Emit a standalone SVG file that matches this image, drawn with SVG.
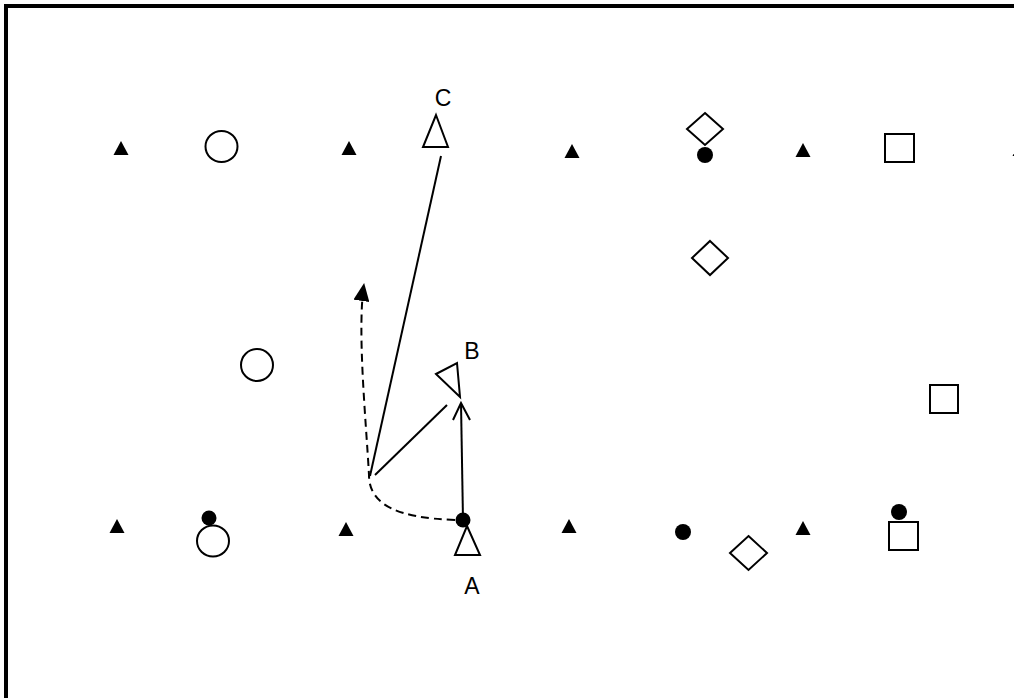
<svg xmlns="http://www.w3.org/2000/svg" width="1014" height="698" viewBox="0 0 1014 698">
<style>
.o{fill:#fff;stroke:#000;stroke-width:2}
.f{fill:#000;stroke:none}
.ln{fill:none;stroke:#000;stroke-width:2}
.d{fill:none;stroke:#000;stroke-width:2;stroke-dasharray:8,5}
.t{font-family:"Liberation Sans",Arial,sans-serif;font-size:23px;fill:#000}
</style>
<defs>
<path id="tri" d="M0,-7 L7.5,7 L-7.5,7 Z"/>
<marker id="fh" viewBox="0 0 18 16" refX="17" refY="8" markerWidth="18" markerHeight="16" markerUnits="userSpaceOnUse" orient="auto"><path d="M0,0 L18,8 L0,16 Z" fill="#000"/></marker>
</defs>
<rect id="frame" x="6" y="6" width="1012" height="700" fill="none" stroke="#000" stroke-width="4"/>
<g id="markers">
<use href="#tri" x="121" y="148" class="f"/>
<use href="#tri" x="349" y="148" class="f"/>
<use href="#tri" x="572" y="151" class="f"/>
<use href="#tri" x="803" y="150" class="f"/>
<use href="#tri" x="1020" y="149" class="f"/>
<use href="#tri" x="117" y="526" class="f"/>
<use href="#tri" x="346" y="529" class="f"/>
<use href="#tri" x="569" y="526" class="f"/>
<use href="#tri" x="803" y="528" class="f"/>
</g>
<g id="circles">
<ellipse cx="221.5" cy="146.5" rx="16" ry="15.5" class="o"/>
<circle cx="257" cy="365" r="16" class="o"/>
<ellipse cx="213" cy="541" rx="16" ry="15.5" class="o"/>
<circle cx="209" cy="518" r="7.5" class="f"/>
</g>
<g id="diamonds">
<path d="M705,113 L723,129 L705,145 L687,129 Z" class="o"/>
<circle cx="705" cy="155" r="8" class="f"/>
<path d="M710,241 L728,258 L710,275 L692,258 Z" class="o"/>
<path d="M748.5,536 L767,553 L748.5,570 L730,553 Z" class="o"/>
<circle cx="683" cy="532" r="8" class="f"/>
</g>
<g id="squares">
<rect x="885" y="134" width="29" height="28" class="o"/>
<rect x="930" y="385" width="28" height="28" class="o"/>
<rect x="889" y="522" width="29" height="28" class="o"/>
<circle cx="899" cy="512" r="8" class="f"/>
</g>
<g id="connectors">
<path d="M441,156 L370,476" class="ln"/>
<path d="M375,475 L447,405" class="ln"/>
<path d="M463,520 L461,403" class="ln"/>
<path d="M453,420 L461,403 L470,420" class="ln"/>
<path d="M455,520 C398,518 369,505 369,475 C366,420 357,330 364,284" class="d" marker-end="url(#fh)"/>
</g>
<g id="playerC">
<path d="M436,115 L448,147 L423,147 Z" class="o"/>
<text x="443" y="106" class="t" text-anchor="middle">C</text>
</g>
<g id="playerB">
<path d="M436,374 L457,363 L460,397 Z" class="o"/>
<text x="472" y="359" class="t" text-anchor="middle">B</text>
</g>
<g id="playerA">
<path d="M467,526 L480,555 L455,555 Z" class="o"/>
<circle cx="463" cy="520" r="7.5" class="f"/>
<text x="472" y="594" class="t" text-anchor="middle">A</text>
</g>
</svg>
